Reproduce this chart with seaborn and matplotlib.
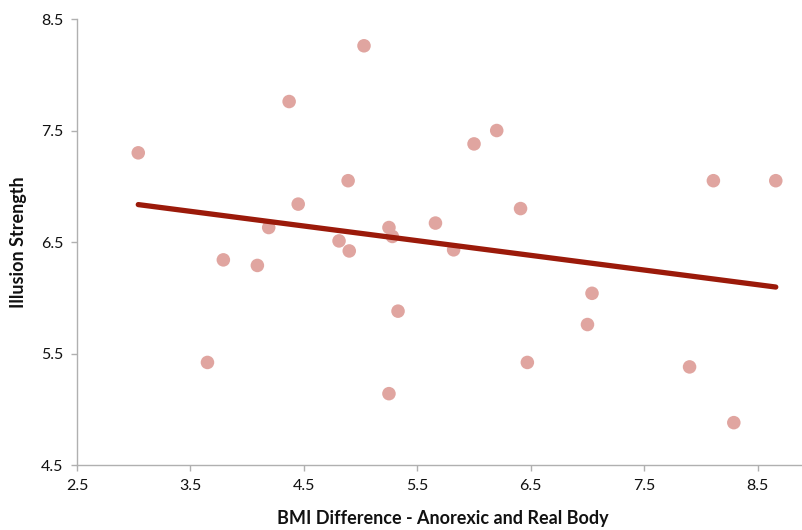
import matplotlib
matplotlib.use("Agg")
import matplotlib.pyplot as plt
import seaborn as sns
import pandas as pd

bmi_diff = [3.04, 3.65, 3.79, 4.09, 4.19, 4.37, 4.45, 4.81, 4.89, 4.90, 5.03, 5.25,
            5.28, 5.25, 5.33, 5.66, 5.82, 6.00, 6.20, 6.41, 6.47, 7.00, 7.04, 7.90,
            8.11, 8.29, 8.66]
illusion = [7.30, 5.42, 6.34, 6.29, 6.63, 7.76, 6.84, 6.51, 7.05, 6.42, 8.26, 6.63,
            6.55, 5.14, 5.88, 6.67, 6.43, 7.38, 7.50, 6.80, 5.42, 5.76, 6.04, 5.38,
            7.05, 4.88, 7.05]
x_ticks = [2.5, 3.5, 4.5, 5.5, 6.5, 7.5, 8.5]
y_ticks = [4.5, 5.5, 6.5, 7.5, 8.5]

df = pd.DataFrame({"bmi": bmi_diff, "ill": illusion})

sns.set_style("white")
plt.rcParams["font.family"] = ["Lato", "DejaVu Sans"]

fig = plt.figure(figsize=(8.03, 5.30), dpi=100)
ax = fig.add_axes([0.0959, 0.1226, 0.9041, 0.8415])

sns.regplot(data=df, x="bmi", y="ill", ax=ax, ci=None,
            scatter_kws=dict(s=95, color="#e0a5a0", edgecolor="none", alpha=1, zorder=2),
            line_kws=dict(color="#9b1a0a", lw=3.8, solid_capstyle="round", zorder=3))

ax.set_xlim(2.5, 8.9)
ax.set_ylim(4.5, 8.5)
ax.set_xticks(x_ticks)
ax.set_yticks(y_ticks)
ax.set_xticklabels([f"{t:.1f}" for t in x_ticks])
ax.set_yticklabels([f"{t:.1f}" for t in y_ticks])

for s in ["top", "right"]:
    ax.spines[s].set_visible(False)
for s in ["left", "bottom"]:
    ax.spines[s].set_color("#b0b0b0")
    ax.spines[s].set_linewidth(1.0)
ax.tick_params(axis="both", direction="out", length=4, width=1, color="#b0b0b0",
               labelsize=11.5, labelcolor="#111111", pad=6, left=True, bottom=True)

ax.set_xlabel("BMI Difference - Anorexic and Real Body", fontsize=13, fontweight="bold",
              color="#111111", va="center")
ax.set_ylabel("Illusion Strength", fontsize=13, fontweight="bold",
              color="#111111", va="center")
ax.xaxis.set_label_coords((443 - 77) / 726, -0.119)
ax.yaxis.set_label_coords((18 - 77) / 726, 0.5)

fig.savefig("out.png", dpi=100)
